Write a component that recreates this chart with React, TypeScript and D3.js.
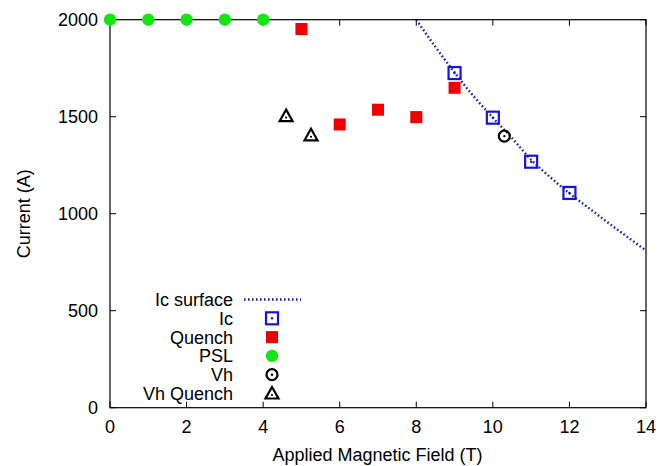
import React from "react";
import * as d3 from "d3";

const xTicks = [0, 2, 4, 6, 8, 10, 12, 14];
const yTicks = [0, 500, 1000, 1500, 2000];

const icSurfaceB = [8, 8.5, 9, 9.5, 10, 10.5, 11, 11.5, 12, 12.5, 13, 13.5, 14];
const icSurfaceI = [2000, 1860, 1728, 1605, 1495, 1390, 1278, 1188, 1105, 1030, 955, 882, 810];

const icB = [9, 10, 11, 12];
const icI = [1725, 1495, 1268, 1107];

const quenchB = [5, 6, 7, 8, 9];
const quenchI = [1952, 1460, 1536, 1498, 1649];

const pslB = [0, 1, 2, 3, 4];
const pslI = [2000, 2000, 2000, 2000, 2000];

const vhB = [10.3];
const vhI = [1400];

const vhqB = [4.6, 5.25];
const vhqI = [1503, 1404];

const legendLabels = ["Ic surface", "Ic", "Quench", "PSL", "Vh", "Vh Quench"];

const W = 668, H = 466;
const L = 110, R = 646, T = 19.7, B = 407.7;
const FONT = "'Liberation Sans', Arial, Helvetica, sans-serif";
const FS = 18;

export default function App() {
  const x = d3.scaleLinear().domain([0, 14]).range([L, R]);
  const y = d3.scaleLinear().domain([0, 2000]).range([B, T]);
  const line = d3.line<number>().x((_, i) => x(icSurfaceB[i])).y((d) => y(d)).curve(d3.curveMonotoneX);

  const IcMarker = ({ cx, cy }: { cx: number; cy: number }) => (
    <g>
      <rect x={cx - 6} y={cy - 6} width={12} height={12} fill="none" stroke="#1414e0" strokeWidth={2.2} />
      <circle cx={cx} cy={cy} r={1.2} fill="#1414e0" />
    </g>
  );
  const QMarker = ({ cx, cy }: { cx: number; cy: number }) => (
    <rect x={cx - 6} y={cy - 6} width={12} height={12} fill="#f00000" />
  );
  const PslMarker = ({ cx, cy }: { cx: number; cy: number }) => (
    <circle cx={cx} cy={cy} r={6.2} fill="#14e614" />
  );
  const VhMarker = ({ cx, cy }: { cx: number; cy: number }) => (
    <g>
      <circle cx={cx} cy={cy} r={5.5} fill="none" stroke="#000" strokeWidth={2.2} />
      <circle cx={cx} cy={cy} r={1.2} fill="#000" />
    </g>
  );
  const VhqMarker = ({ cx, cy }: { cx: number; cy: number }) => (
    <g>
      <path d={`M${cx},${cy - 6.5}L${cx + 6.5},${cy + 5}L${cx - 6.5},${cy + 5}Z`} fill="none" stroke="#000" strokeWidth={2.2} strokeLinejoin="miter" />
      <circle cx={cx} cy={cy + 1.5} r={1.1} fill="#000" />
    </g>
  );

  const legY0 = 299.5;
  const legDy = 18.8;
  const legTextX = 233;
  const legSymX = 272;

  return (
    <svg width={W} height={H} style={{ position: "absolute", left: 0, top: 0 }} fontFamily={FONT}>
      <rect width={W} height={H} fill="#fff" />
      <defs>
        <clipPath id="plot">
          <rect x={L} y={T} width={R - L} height={B - T} />
        </clipPath>
      </defs>
      {xTicks.map((t) => (
        <g key={"x" + t}>
          <line x1={x(t)} x2={x(t)} y1={B} y2={B - 6} stroke="#000" strokeWidth={1} />
          <line x1={x(t)} x2={x(t)} y1={T} y2={T + 6} stroke="#000" strokeWidth={1} />
          <text x={x(t)} y={B + 25} fontSize={FS} textAnchor="middle">{t}</text>
        </g>
      ))}
      {yTicks.map((t) => (
        <g key={"y" + t}>
          <line x1={L} x2={L + 6} y1={y(t)} y2={y(t)} stroke="#000" strokeWidth={1} />
          <line x1={R} x2={R - 6} y1={y(t)} y2={y(t)} stroke="#000" strokeWidth={1} />
          <text x={L - 12} y={y(t) + 6.5} fontSize={FS} textAnchor="end">{t}</text>
        </g>
      ))}
      <rect x={L} y={T} width={R - L} height={B - T} fill="none" stroke="#000" strokeWidth={1.2} />
      <path d={line(icSurfaceI) || ""} fill="none" stroke="#1a1ab0" strokeWidth={2.4} strokeDasharray="1.6,2.4" clipPath="url(#plot)" />
      {quenchB.map((b, i) => <QMarker key={"q" + i} cx={x(b)} cy={y(quenchI[i])} />)}
      {pslB.map((b, i) => <PslMarker key={"p" + i} cx={x(b)} cy={y(pslI[i])} />)}
      {icB.map((b, i) => <IcMarker key={"i" + i} cx={x(b)} cy={y(icI[i])} />)}
      {vhB.map((b, i) => <VhMarker key={"v" + i} cx={x(b)} cy={y(vhI[i])} />)}
      {vhqB.map((b, i) => <VhqMarker key={"t" + i} cx={x(b)} cy={y(vhqI[i])} />)}

      {legendLabels.map((lab, i) => (
        <text key={lab} x={legTextX} y={legY0 + i * legDy + 6.5} fontSize={FS} textAnchor="end">{lab}</text>
      ))}
      <line x1={244} x2={301} y1={legY0} y2={legY0} stroke="#1a1ab0" strokeWidth={2.4} strokeDasharray="1.6,2.4" />
      <IcMarker cx={legSymX} cy={legY0 + legDy} />
      <QMarker cx={legSymX} cy={legY0 + 2 * legDy} />
      <PslMarker cx={legSymX} cy={legY0 + 3 * legDy} />
      <VhMarker cx={legSymX} cy={legY0 + 4 * legDy} />
      <VhqMarker cx={legSymX} cy={legY0 + 5 * legDy} />

      <text x={(L + R) / 2 - 0.5} y={461} fontSize={FS} textAnchor="middle">Applied Magnetic Field (T)</text>
      <text transform={`translate(30,${(T + B) / 2}) rotate(-90)`} fontSize={FS} textAnchor="middle">Current (A)</text>
    </svg>
  );
}
